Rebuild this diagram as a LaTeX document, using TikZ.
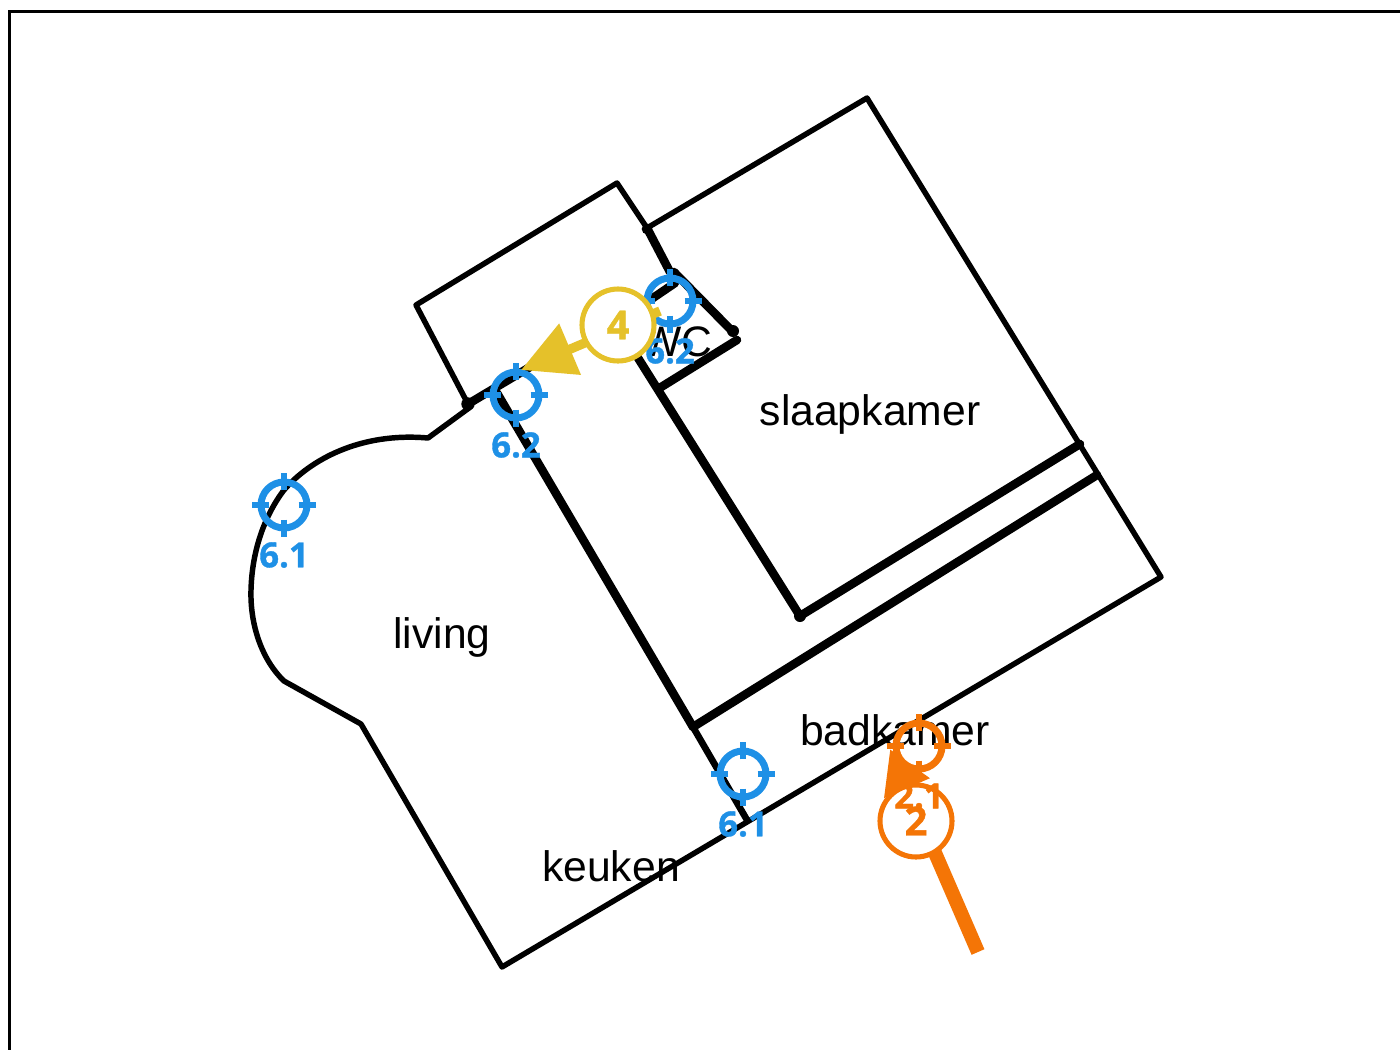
\documentclass[tikz,border=0pt]{standalone}
\usepackage{fontspec}
\setmainfont{Liberation Sans}
\newfontfamily\tagfont{Open Sans}[BoldFont={* Bold},BoldFeatures={FakeBold=1}]
\usetikzlibrary{arrows.meta}
\definecolor{tblue}{HTML}{1E90E6}
\definecolor{torange}{HTML}{F47506}
\definecolor{tyellow}{HTML}{E5C12A}
\tikzset{
  thinwall/.style={draw=black,line width=4.1pt,line join=round,line cap=round},
  thickwall/.style={draw=black,line width=6.4pt,line join=round,line cap=round},
  walldot/.style={circle,fill=black,inner sep=0pt,minimum size=8pt},
  room/.style={font=\fontsize{32}{36}\selectfont,text=black,inner sep=0pt},
  ring/.style={circle,draw=#1,line width=5.2pt,minimum size=34.5pt,inner sep=0pt,outer sep=0pt},
  tick/.style={draw=#1,line width=4.8pt},
  tag/.style={font=\tagfont\bfseries\fontsize{26}{28}\selectfont,text=#1,inner sep=0pt},
  badge/.style={circle,draw=#1,fill=white,line width=3.8pt,minimum size=54pt,inner sep=0pt,outer sep=0pt,
    font=\tagfont\bfseries\fontsize{30}{30}\selectfont,text=#1},
  yarrow/.style={draw=tyellow,line width=7pt,-{Triangle[length=40pt,width=40pt,fill=tyellow]}},
  oarrow/.style={draw=torange,line width=10.5pt,-{Triangle[length=32pt,width=35pt,fill=torange]}}
}
\newcommand{\target}[4]{% name, colour, centre, label
  \node[ring=#2] (#1) at #3 {};
  \draw[tick=#2] ([yshift=-11pt]#1.center) -- ([yshift=-24pt]#1.center);
  \draw[tick=#2] ([yshift=11pt]#1.center) -- ([yshift=24pt]#1.center);
  \draw[tick=#2] ([xshift=-11pt]#1.center) -- ([xshift=-24pt]#1.center);
  \draw[tick=#2] ([xshift=11pt]#1.center) -- ([xshift=24pt]#1.center);
  \node[tag=#2] (#1l) at ([yshift=-37.5pt]#1.center) {#4};
}
\begin{document}
\begin{tikzpicture}[x=0.75pt,y=-0.75pt]
\useasboundingbox (0,0) rectangle (1400,1050);
\fill[white] (0,0) rectangle (1400,1050);
\draw[black,line width=2.3pt] (9.5,1050) -- (9.5,11.5) -- (1400,11.5);

% room names
\node[room] (rSlaap) at (870,414) {slaapkamer};
\node[room] (rLiving) at (442,637) {living};
\node[room] (rKeuken) at (611,866) {keuken};
\node[room] (rBad) at (895,730) {badkamer};
\node[room] (rWC) at (677,342) {WC};

% thin walls
\draw[thinwall] (647,228) -- (867,98) -- (1161,577) -- (502,967) -- (361,724) -- (284,681)
  .. controls (262,660) and (250,625) .. (251,590)
  .. controls (252,550) and (265,515) .. (284,490)
  .. controls (310,460) and (360,432) .. (428,438)
  -- (469,408);
\draw[thinwall] (468,404) -- (416,305) -- (617,183) -- (647,228);

% thick walls
\draw[thickwall] (647,228) -- (670,272);
\draw[thickwall] (650,300) -- (675,283);
\draw[thickwall] (674,272) -- (733,332);
\draw[thickwall] (737,340) -- (658,389);
\draw[thickwall] (628,342) -- (800,616) -- (1080,444);
\draw[thickwall] (1097,475) -- (693,727);
\draw[thickwall] (468,404) -- (530,367);
\draw[thickwall] (497,393) -- (693,727);
\draw[line width=5pt,black,line cap=round] (693,727) -- (747,820);
\node[walldot,minimum size=8pt] (d1) at (647,229) {};
\node[walldot,minimum size=9pt] (d2) at (733,331) {};
\node[walldot,minimum size=10pt] (d3) at (468,404) {};
\node[walldot,minimum size=9pt] (d4) at (800,616) {};

% sight points
\target{t61a}{tblue}{(284,505)}{6.1}
\target{t62a}{tblue}{(516,395)}{6.2}
\target{t62b}{tblue}{(670,301)}{6.2}
\target{t61b}{tblue}{(743,774)}{6.1}

% arrows with their numbered badges
\coordinate (ytail) at (660,311);
\coordinate (ytip) at (521,370);
\draw[yarrow] (ytail) -- (ytip);
\node[badge=tyellow] (b4) at (618,325) {4};

\coordinate (otail) at (978,952);
\coordinate (otip) at (890,749);
\draw[oarrow] (otail) -- (otip);
\node[badge=torange] (b2) at (916,821) {2};
\target{t21}{torange}{(919,746)}{2.1}
\end{tikzpicture}
\end{document}
